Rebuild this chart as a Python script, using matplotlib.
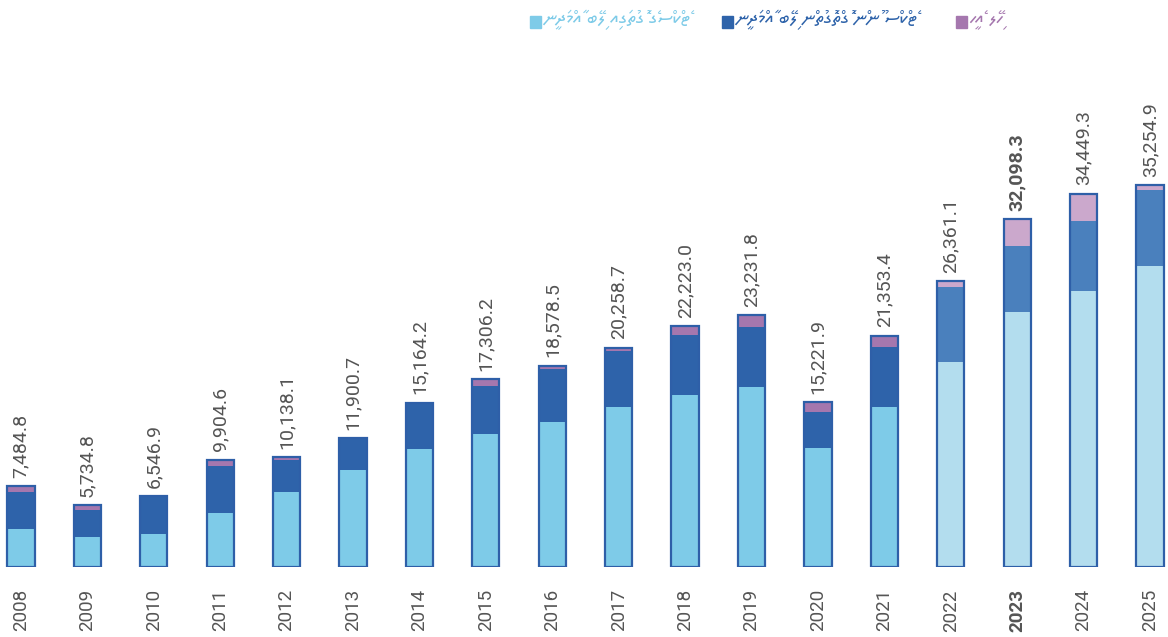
import matplotlib
matplotlib.use("Agg")
import matplotlib.pyplot as plt
from matplotlib import font_manager
from matplotlib.ft2font import FT2Font
from matplotlib.patches import Rectangle

years = [2008, 2009, 2010, 2011, 2012, 2013, 2014, 2015, 2016,
         2017, 2018, 2019, 2020, 2021, 2022, 2023, 2024, 2025]
totals = [7484.8, 5734.8, 6546.9, 9904.6, 10138.1, 11900.7, 15164.2, 17306.2, 18578.5,
          20258.7, 22223.0, 23231.8, 15221.9, 21353.4, 26361.1, 32098.3, 34449.3, 35254.9]
# tax revenue, non-tax revenue, grants
tax = [3520, 2770, 3050, 5000, 6950, 8950, 10890, 12300, 13400,
       14800, 15900, 16650, 11000, 14800, 18950, 23540, 25450, 27780]
grants = [545, 465, 67, 605, 288, 30, 34, 606, 278,
          349, 833, 1102, 922, 1003, 551, 2488, 2489, 465]
nontax = [t - a - g for t, a, g in zip(totals, tax, grants)]

labels = ["ޓެކްސްގެ ގޮތުގައި ލިބޭ އާމްދަނީ",
          "ޓެކްސް ނޫން ގޮތްގޮތުން ލިބޭ އާމްދަނީ",
          "ހިލޭ އެހީ"]
first_projected = 2022

col_actual = ["#7ECBE8", "#2E63AA", "#A577AE"]
col_proj = ["#B3DDEE", "#4A80BD", "#CBA8CC"]
edge = "#2E5FA8"
grey = "#555555"


def thaana_font():
    found = []
    for f in font_manager.findSystemFonts():
        try:
            if 0x0786 in FT2Font(f).get_charmap():
                found.append(f)
        except Exception:
            pass
    for f in found:
        if "Thaana" in f:
            return f
    for f in found:
        if "FreeSerif" in f or "FreeSans" in f:
            return f
    return found[0] if found else None


def visual_rtl(s):
    # matplotlib lays text out left to right, so flip the letter clusters
    clusters = []
    for ch in s:
        if 0x07A6 <= ord(ch) <= 0x07B0 and clusters:
            clusters[-1] += ch
        else:
            clusters.append(ch)
    return "".join(reversed(clusters))


num_family = "Roboto"

fig = plt.figure(figsize=(11.68, 6.37), dpi=100)
ax = fig.add_axes([1 / 1168, 70 / 637, 1165.6 / 1168, 527 / 637])

x = list(range(len(years)))
w = 0.41
for i, yr in enumerate(years):
    cols = col_proj if yr >= first_projected else col_actual
    ax.bar(i, tax[i], width=w, color=cols[0], linewidth=0)
    ax.bar(i, nontax[i], width=w, bottom=tax[i], color=cols[1], linewidth=0)
    ax.bar(i, grants[i], width=w, bottom=tax[i] + nontax[i], color=cols[2], linewidth=0)
    ax.bar(i, totals[i], width=w, fill=False, edgecolor=edge, linewidth=1.6)
    ax.annotate(f"{totals[i]:,.1f}", (i, totals[i]), xytext=(0, 6),
                textcoords="offset points", rotation=90, ha="center", va="bottom",
                fontsize=14, family=num_family, color=grey,
                fontweight="bold" if yr == 2023 else "normal")

ax.set_xlim(-0.3, 17.25)
ax.set_ylim(0, 48640)
ax.set_xticks(x)
ax.set_xticklabels([str(y) for y in years], rotation=90, fontsize=13.5,
                   family=num_family, color=grey, va="top")
for lbl, yr in zip(ax.get_xticklabels(), years):
    if yr == 2023:
        lbl.set_fontweight("bold")
ax.tick_params(axis="x", length=0, pad=16)
ax.set_yticks([])
for s in ax.spines.values():
    s.set_visible(False)

# legend across the top
tf = thaana_font()
fp = font_manager.FontProperties(fname=tf, size=14) if tf else font_manager.FontProperties(size=14)
legend_pos = [(530, 543), (722, 735), (956, 969)]
for (sq, tx), lab, c in zip(legend_pos, labels, col_actual):
    fig.patches.append(Rectangle((sq / 1168, 1 - 28 / 637), 11 / 1168, 12 / 637,
                                 transform=fig.transFigure, color=c))
    fig.text(tx / 1168, 1 - 20 / 637, visual_rtl(lab), fontproperties=fp,
             color=c, ha="left", va="center")

fig.savefig("out.png", dpi=100)
